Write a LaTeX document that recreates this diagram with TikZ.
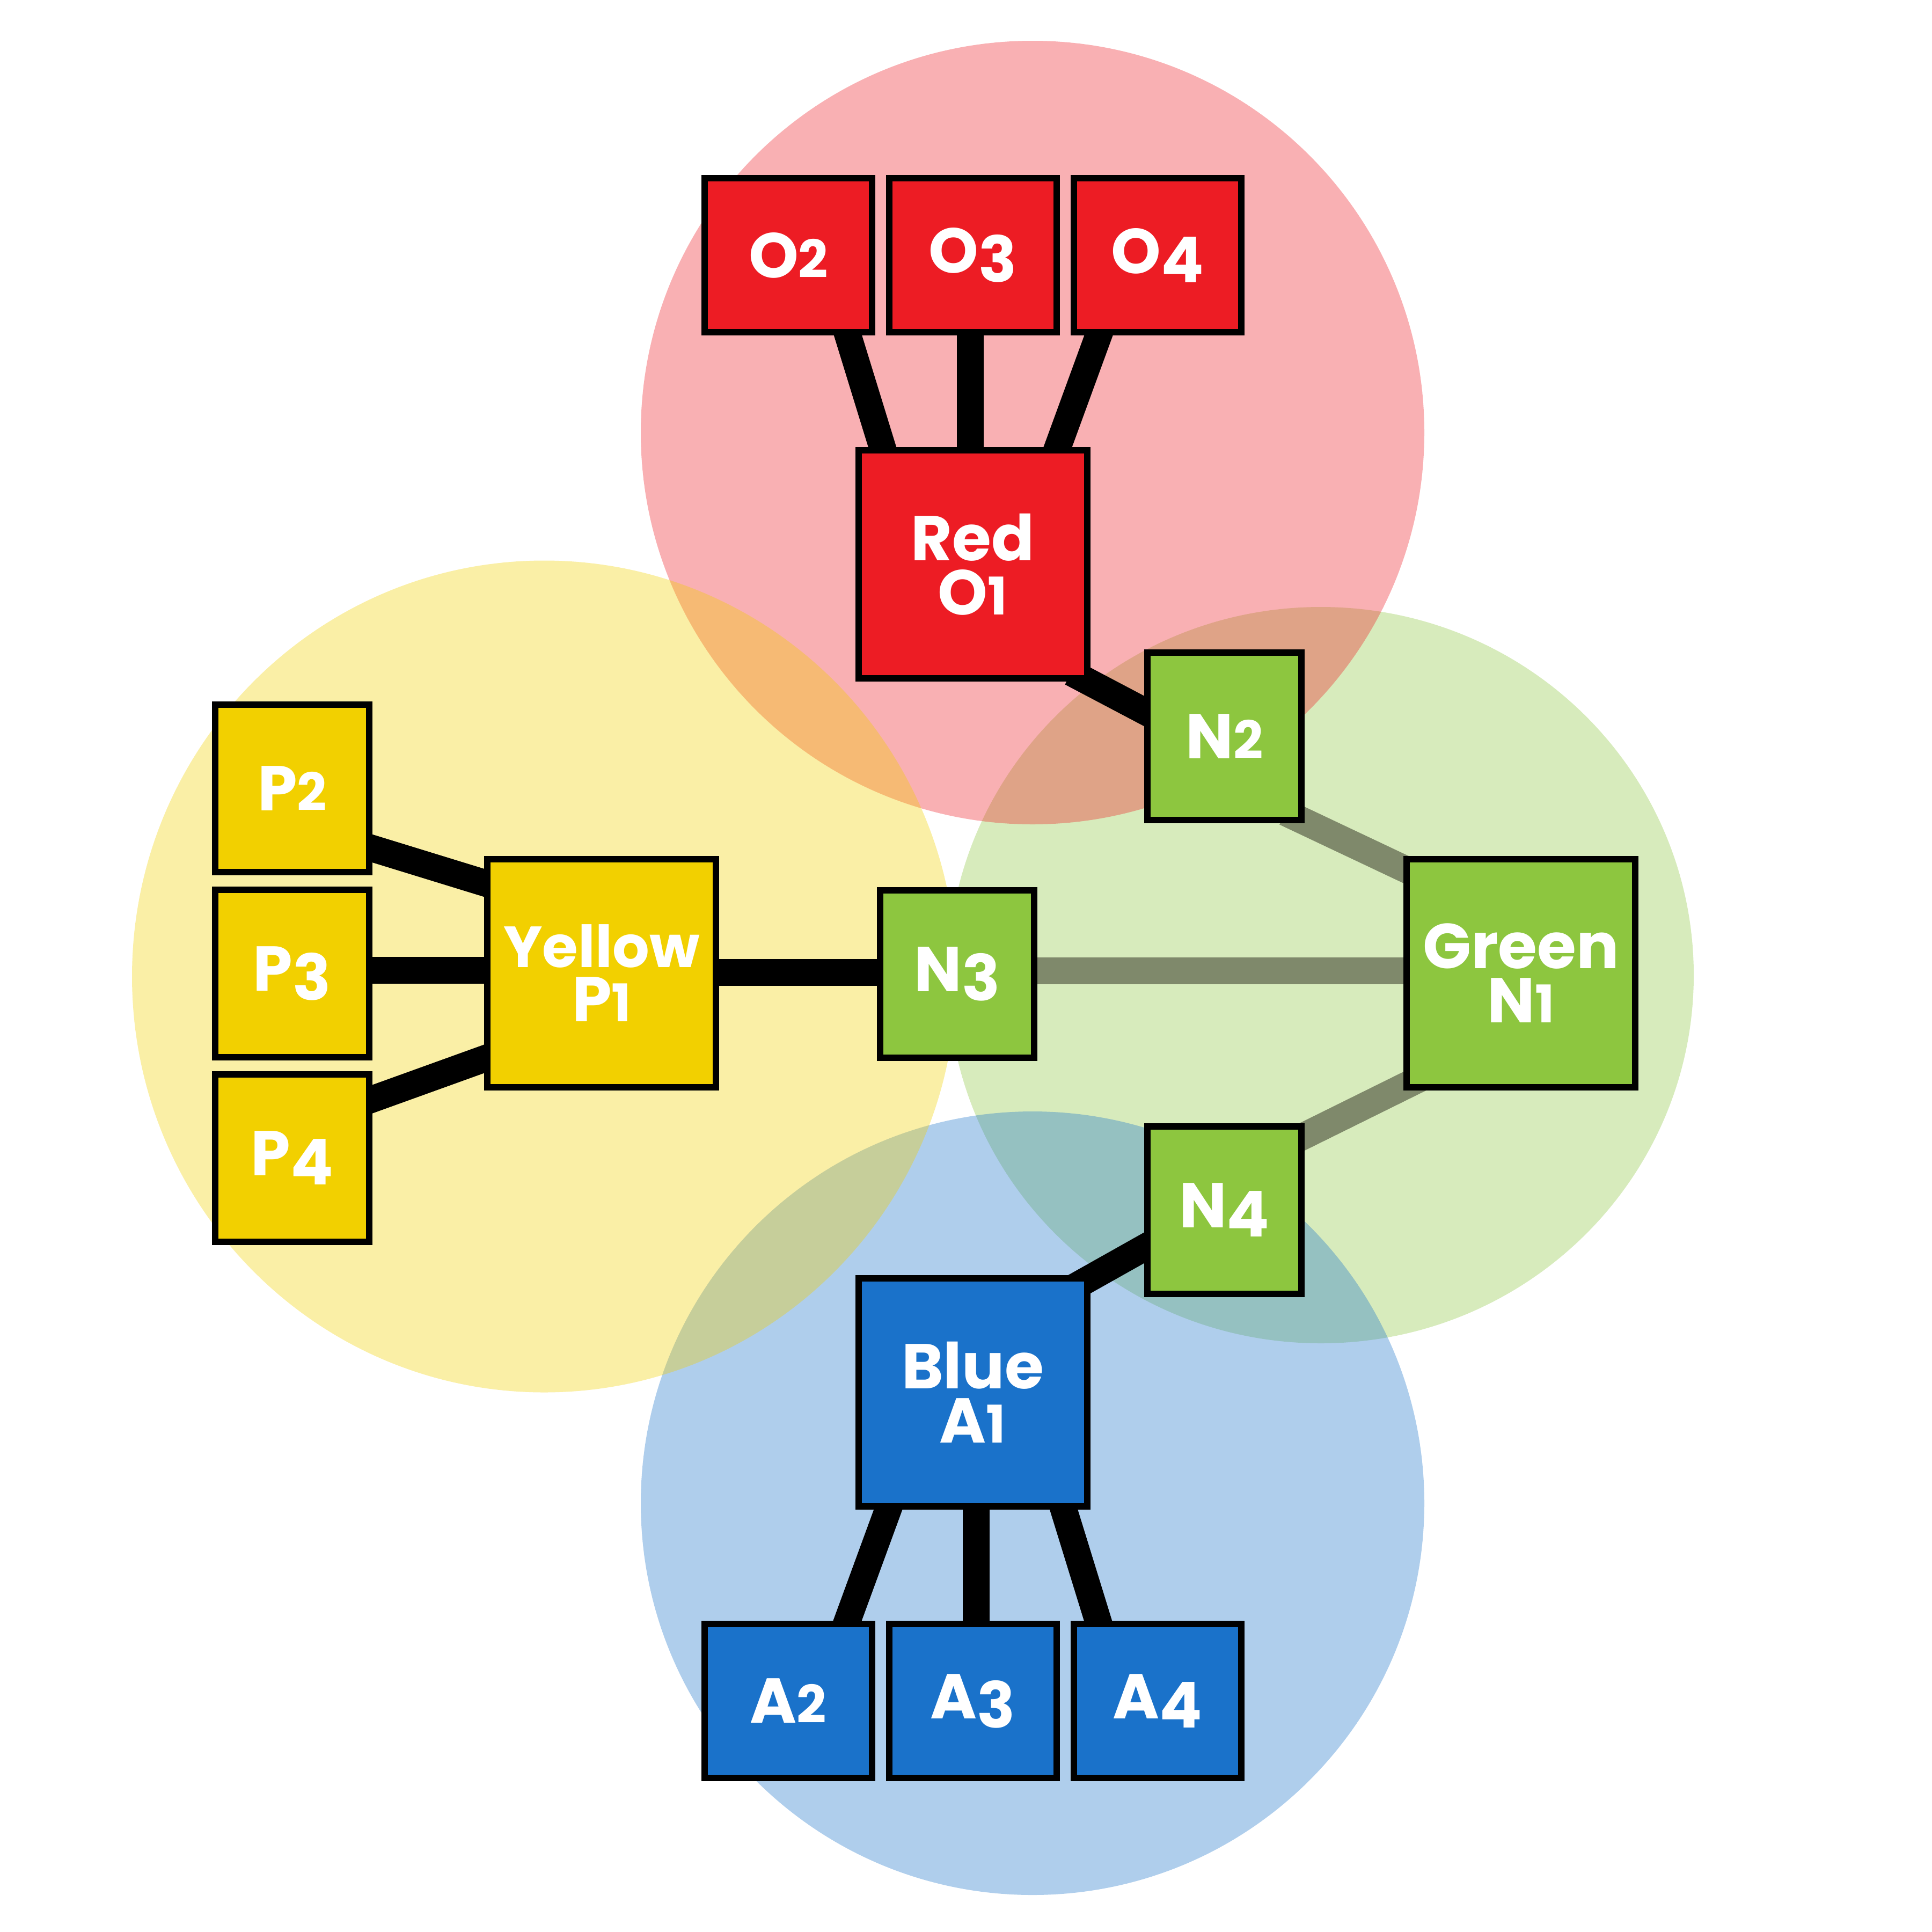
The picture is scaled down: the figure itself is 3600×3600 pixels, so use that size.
\documentclass[tikz,border=0pt]{standalone}
\usepackage{fontspec}
\usepackage{graphicx}
\setmainfont{Poppins}
\usetikzlibrary{calc}
\pgfdeclarelayer{bg}
\pgfdeclarelayer{links}
\pgfsetlayers{bg,links,main}
\definecolor{cred}{HTML}{ED1C24}
\definecolor{cyel}{HTML}{F2D000}
\definecolor{cgrn}{HTML}{8DC63F}
\definecolor{cblu}{HTML}{1A72CA}
\definecolor{cgry}{HTML}{7F896B}
% old-style looking figures
\newcommand\smalldig[1]{\scalebox{0.82}{#1}}
\newcommand\lowdig[1]{\raisebox{-17pt}{#1}}
\tikzset{
  box/.style={draw=black, line width=12pt, inner sep=0pt, text=white, align=center,
    font=\fontsize{118}{101}\selectfont\bfseries},
  hbox/.style={box, minimum width=312pt, minimum height=287pt},
  vbox/.style={box, minimum width=287pt, minimum height=312pt},
  bigbox/.style={box, minimum width=426pt, minimum height=425pt},
  link/.style={line width=50pt, draw=black, shorten <=-40pt, shorten >=-40pt},
  glink/.style={link, draw=cgry},
  blob/.style={fill opacity=0.35}
}
\begin{document}
\begin{tikzpicture}[x=1pt,y=-1pt]
\useasboundingbox (0,0) rectangle (3600,3600);
% circles
\begin{pgfonlayer}{bg}
\fill[blob, cgrn] (2461,1817) ellipse [x radius=695, y radius=686];
\fill[blob, cred] (1924,806) circle [radius=730];
\fill[blob, cblu] (1924,2801) circle [radius=730];
\fill[blob, cyel] (1014,1819.5) ellipse [x radius=768, y radius=775];
\end{pgfonlayer}
% nodes
\node[hbox, fill=cred] (O2) at (1469,475.5) {O\smalldig{2}};
\node[hbox, fill=cred] (O3) at (1812.5,475.5) {O\lowdig{3}};
\node[hbox, fill=cred] (O4) at (2157,475.5) {O\lowdig{4}};
\node[bigbox, fill=cred] (O1) at (1812.5,1051.5) {Red\\O\smalldig{1}};
\node[hbox, fill=cblu] (A2) at (1468.5,3169.5) {A\smalldig{2}};
\node[hbox, fill=cblu] (A3) at (1812.5,3169.5) {A\lowdig{3}};
\node[hbox, fill=cblu] (A4) at (2157,3169.5) {A\lowdig{4}};
\node[bigbox, fill=cblu] (A1) at (1812.5,2594) {Blue\\A\smalldig{1}};
\node[vbox, fill=cyel] (P2) at (544.5,1469) {P\smalldig{2}};
\node[vbox, fill=cyel] (P3) at (544.5,1813.5) {P\lowdig{3}};
\node[vbox, fill=cyel] (P4) at (544.5,2157.5) {P\lowdig{4}};
\node[bigbox, fill=cyel] (P1) at (1121,1813.5) {{\fontsize{108}{101}\selectfont Yellow}\\P\smalldig{1}};
\node[vbox, fill=cgrn] (N3) at (1783.5,1814.5) {N\lowdig{3}};
\node[vbox, fill=cgrn] (N2) at (2281.5,1372) {N\smalldig{2}};
\node[vbox, fill=cgrn] (N4) at (2281.5,2254.5) {N\lowdig{4}};
\node[bigbox, fill=cgrn] (N1) at (2834,1813.5) {Green\\N\smalldig{1}};
% connectors (behind nodes)
\begin{pgfonlayer}{links}
\draw[link] ($(O2.south)+(111,0)$) -- ($(O1.north)+(-168.5,0)$);
\draw[link] ($(O3.south)+(-5,0)$) -- ($(O1.north)+(-5,0)$);
\draw[link] ($(O4.south)+(-110,0)$) -- ($(O1.north)+(158.5,0)$);
\draw[link] ($(A2.north)+(110.5,0)$) -- ($(A1.south)+(-157.5,0)$);
\draw[link] ($(A3.north)+(6.5,0)$) -- ($(A1.south)+(6.5,0)$);
\draw[link] ($(A4.north)+(-111,0)$) -- ($(A1.south)+(169.5,0)$);
\draw[link] ($(P2.east)+(0,112)$) -- ($(P1.west)+(0,-168.5)$);
\draw[link] ($(P3.east)+(0,-6)$) -- ($(P1.west)+(0,-6)$);
\draw[link] ($(P4.east)+(0,-109.5)$) -- ($(P1.west)+(0,159.5)$);
\draw[link] ($(P1.east)+(0,-1.5)$) -- ($(N3.west)+(0,-2.5)$);
\draw[link] ($(O1.south east)+(0,2)$) -- ($(N2.west)+(0,-47)$);
\draw[link] ($(A1.north east)+(0,6)$) -- ($(N4.west)+(0,70.5)$);
\draw[glink] ($(N2.east)+(0,159)$) -- ($(N1.west)+(0,-195.5)$);
\draw[glink] ($(N3.east)+(0,-5.5)$) -- ($(N1.west)+(0,-4.5)$);
\draw[glink] ($(N4.east)+(0,-138.5)$) -- ($(N1.west)+(0,211.5)$);
\end{pgfonlayer}
\end{tikzpicture}
\end{document}
